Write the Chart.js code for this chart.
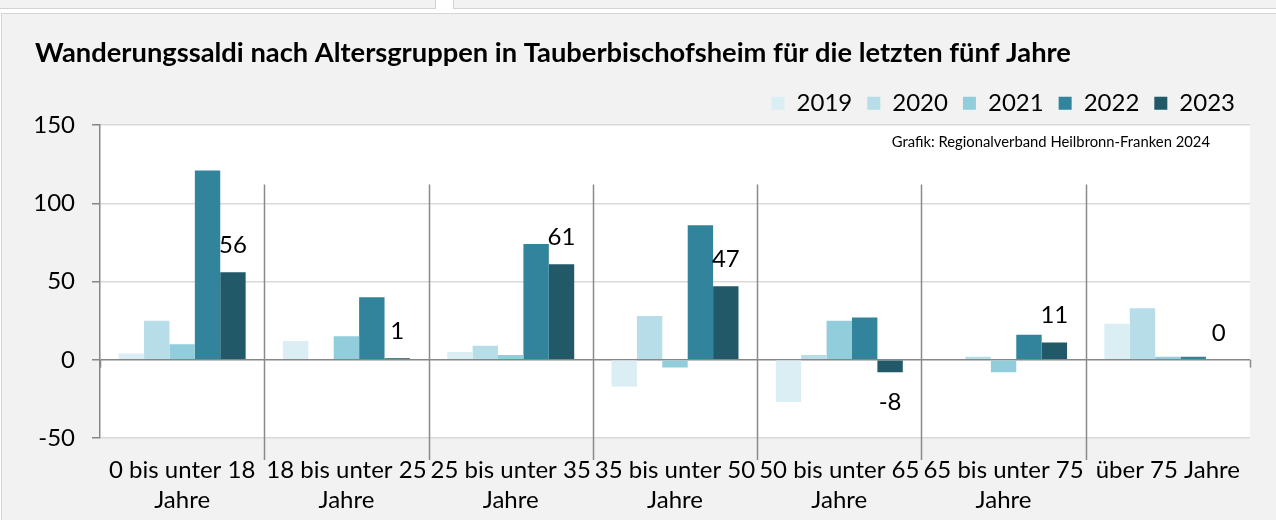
<!DOCTYPE html>
<html><head><meta charset="utf-8">
<script src="https://cdn.jsdelivr.net/npm/chart.js@4.4.0/dist/chart.umd.min.js"></script>
<style>
html,body{margin:0;padding:0;background:#fff;width:1276px;height:520px;overflow:hidden;}
.topbox{position:absolute;top:-10px;height:17px;background:#f2f2f2;border:1px solid #d4d4d4;}
#panel{position:absolute;left:1px;top:13px;width:1290px;height:520px;background:#f2f2f2;border:1px solid #d4d4d4;}
#wrap{position:absolute;left:0;top:0;width:1276px;height:520px;}
</style></head><body>
<div class="topbox" style="left:-2px;width:436px"></div>
<div class="topbox" style="left:453px;width:840px"></div>
<div id="panel"></div>
<div id="wrap"><canvas id="c" width="1276" height="520"></canvas></div>
<script>
const categories = [["0 bis unter 18","Jahre"],["18 bis unter 25","Jahre"],["25 bis unter 35","Jahre"],["35 bis unter 50","Jahre"],["50 bis unter 65","Jahre"],["65 bis unter 75","Jahre"],["über 75 Jahre"]];
const years = ["2019","2020","2021","2022","2023"];
const s2019 = [4, 12, 5, -17, -27, 0, 23];
const s2020 = [25, 0, 9, 28, 3, 2, 33];
const s2021 = [10, 15, 3, -5, 25, -8, 2];
const s2022 = [121, 40, 74, 86, 27, 16, 2];
const s2023 = [56, 1, 61, 47, -8, 11, 0];
const yTicks = [-50, 0, 50, 100, 150];
const sourceText = "Grafik: Regionalverband Heilbronn-Franken 2024";
const titleText = "Wanderungssaldi nach Altersgruppen in Tauberbischofsheim für die letzten fünf Jahre";

const colors = ["#daeef3","#b7dde8","#92cddc","#31849b","#215968"];
const series = [s2019, s2020, s2021, s2022, s2023];
const FONT = "Lato";

const bgPlugin = {
  id: 'bg',
  beforeDraw(chart) {
    const {ctx, chartArea: a} = chart;
    ctx.save(); ctx.fillStyle = '#fff';
    ctx.fillRect(a.left, a.top, a.right - a.left, a.bottom - a.top);
    ctx.restore();
  }
};
const extraPlugin = {
  id: 'extra',
  afterDatasetsDraw(chart) {
    const {ctx, chartArea: a, scales: {x, y}} = chart;
    ctx.save();
    ctx.strokeStyle = '#8a8a8a'; ctx.lineWidth = 1.5;
    const n = categories.length;
    for (let i = 0; i <= n; i++) {
      let px;
      if (i === 0) px = a.left; else if (i === n) px = a.right;
      else px = (x.getPixelForValue(i - 1) + x.getPixelForValue(i)) / 2;
      const y1 = (i === 0 || i === n) ? y.getPixelForValue(0) : y.getPixelForValue(112);
      const y2 = (i === 0 || i === n) ? y.getPixelForValue(-5) : y.getPixelForValue(-64);
      ctx.beginPath(); ctx.moveTo(Math.round(px) + 0.5, y1); ctx.lineTo(Math.round(px) + 0.5, y2); ctx.stroke();
    }
    const meta = chart.getDatasetMeta(4);
    ctx.fillStyle = '#000';
    ctx.font = '24px ' + FONT;
    ctx.textAlign = 'center'; ctx.textBaseline = 'middle';
    meta.data.forEach((el, i) => {
      const v = s2023[i];
      const ty = v < 0 ? el.y + 30 : el.y - 27;
      ctx.fillText(String(v), el.x, ty);
    });
    ctx.font = '14.8px ' + FONT;
    ctx.textAlign = 'right';
    ctx.fillText(sourceText, a.right - 40, a.top + 17);
    ctx.restore();
  }
};

new Chart(document.getElementById('c'), {
  type: 'bar',
  data: {
    labels: categories,
    datasets: years.map((yr, k) => ({
      label: yr, data: series[k], backgroundColor: colors[k],
      borderWidth: 0, barPercentage: 1.0, categoryPercentage: 0.773
    }))
  },
  options: {
    responsive: false, animation: false,
    layout: {padding: {left: 35, right: 26, top: 0, bottom: 5}},
    plugins: {
      tooltip: {enabled: false},
      title: {display: true, text: titleText, align: 'start', color: '#000',
        font: {family: FONT, size: 27.3, weight: 'bold', lineHeight: 1.25}, padding: {top: 36, bottom: 6}},
      legend: {position: 'top', align: 'end',
        labels: {boxWidth: 13, boxHeight: 13, padding: 15, color: '#000', font: {family: FONT, size: 24}}}
    },
    scales: {
      x: {
        afterFit(scale) { scale.height = 77; },
        grid: {display: false, drawTicks: false}, border: {display: false},
        ticks: {color: '#000', font: {family: FONT, size: 24, lineHeight: 1.25}, padding: 17, autoSkip: false, maxRotation: 0, minRotation: 0}
      },
      y: {
        min: -50, max: 150,
        afterFit(scale) { scale.width = 65; },
        afterBuildTicks(scale) { scale.ticks = yTicks.map(v => ({value: v})); },
        ticks: {color: '#000', font: {family: FONT, size: 24}, padding: 17},
        grid: {
          color: c => (c.tick && c.tick.value === 0) ? '#868686' : '#d9d9d9',
          lineWidth: 1.5,
          tickColor: '#868686', tickLength: 8
        },
        border: {color: '#868686', width: 1.5}
      }
    }
  },
  plugins: [bgPlugin, extraPlugin]
});
</script>
</body></html>
